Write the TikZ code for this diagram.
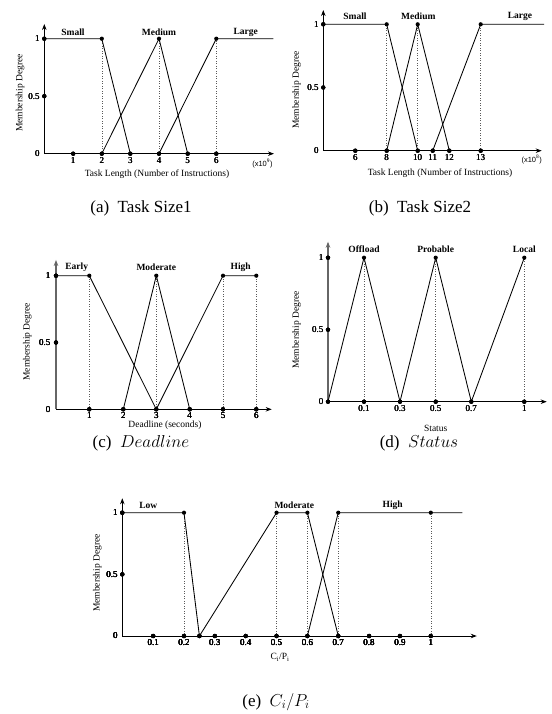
\documentclass[tikz,border=0pt]{standalone}
\usepackage{fontspec}
\setmainfont{Liberation Serif}
\newfontfamily\axsans{Liberation Sans}
\usetikzlibrary{arrows.meta}

% filled marker on a membership curve or an axis
\newcommand\mdot[1]{\fill #1 circle (2.1pt);}

\tikzset{
  curve/.style={line width=0.85pt, line join=round},
  axis/.style={line width=0.8pt, -{Stealth[length=6pt,width=4.5pt]}},
  greyaxis/.style={axis, draw=black!60, line width=1.3pt},
  guide/.style={dotted, line width=0.5pt, draw=black!65},
  setlabel/.style={font=\fontsize{9.5}{10}\selectfont\bfseries, inner sep=0pt},
  tick/.style={font=\fontsize{9}{10}\selectfont, inner sep=0.5pt},
  axtitle/.style={font=\fontsize{9.5}{11}\selectfont, inner sep=0pt},
  scalenote/.style={font=\axsans\fontsize{7.5}{9}\selectfont, inner sep=0pt},
  caption/.style={font=\fontsize{17}{20}\selectfont, inner sep=0pt},
}

\begin{document}
\begin{tikzpicture}[x=1pt, y=-1pt]
\useasboundingbox (0,0) rectangle (551,714);

% ---------------- (a) Task Size1 ----------------
\begin{scope}[shift={(44.3,153.7)}, y=115pt]
  \foreach \u in {57.5,114.7,172} \draw[guide] (\u,0) -- (\u,1);
  \draw[axis] (0,0) -- (229.7,0);
  \draw[axis] (0,0) -- (0,1.128);
  \draw[curve] (0,1) -- (57.5,1) -- (86,0);
  \draw[curve] (57.5,0) -- (114.7,1) -- (143.4,0);
  \draw[curve] (114.7,0) -- (172,1) -- (229,1);
  \foreach \u in {57.5,114.7,172} \mdot{(\u,1)}
  \mdot{(0,1)} \mdot{(0,0.5)}
  \foreach \u/\t in {28.9/1,57.5/2,86/3,114.7/4,143.4/5,172/6} {
    \mdot{(\u,0)}
    \node[tick, below=3pt] at (\u,0) {\t};
  }
  \foreach \v/\t in {0/0,0.5/0.5,1/1} \node[tick, left=4pt] at (0,\v) {\t};
\end{scope}
\node[setlabel] at (73,32) {Small};
\node[setlabel] at (159,32) {Medium};
\node[setlabel] at (245.7,32) {Large};
\node[axtitle, rotate=90] at (20,93) {Membership Degree};
\node[axtitle] at (157,174.5) {Task Length (Number of Instructions)};
\node[scalenote] at (262.5,163.5) {(x10$^{\mathsf{9}}$)};
\node[caption] at (141,208.5) {(a)\hspace{0.5em}Task Size1};

% ---------------- (b) Task Size2 ----------------
\begin{scope}[shift={(323.3,150.7)}, y=126.4pt]
  \foreach \u in {63.4,94.4,157.4} \draw[guide] (\u,0) -- (\u,1);
  \draw[axis] (0,0) -- (218.4,0);
  \draw[axis] (0,0) -- (0,1.113);
  \draw[curve] (0,1) -- (63.4,1) -- (94.4,0);
  \draw[curve] (63.4,0) -- (94.4,1) -- (126,0);
  \draw[curve] (109.4,0) -- (157.4,1) -- (220.7,1);
  \foreach \u in {63.4,94.4,157.4} \mdot{(\u,1)}
  \mdot{(0,1)} \mdot{(0,0.5)}
  \foreach \u/\t in {32/6,63.4/8,94.4/10,109.4/11,126/12,157.4/13} {
    \mdot{(\u,0)}
    \node[tick, below=3pt] at (\u,0) {\t};
  }
  \foreach \v/\t in {0/0,0.5/0.5,1/1} \node[tick, left=4pt] at (0,\v) {\t};
\end{scope}
\node[setlabel] at (355,16.7) {Small};
\node[setlabel] at (418.3,16.7) {Medium};
\node[setlabel] at (520,16.7) {Large};
\node[axtitle, rotate=90] at (296.7,90) {Membership Degree};
\node[axtitle] at (440,173.5) {Task Length (Number of Instructions)};
\node[scalenote] at (531.7,159.5) {(x10$^{\mathsf{8}}$)};
\node[caption] at (420,208.5) {(b)\hspace{0.5em}Task Size2};

% ---------------- (c) Deadline ----------------
\begin{scope}[shift={(56,409.3)}, y=133.6pt]
  \foreach \u in {33.3,100.3,167,200.3} \draw[guide] (\u,0) -- (\u,1);
  \draw[axis] (0,0) -- (215.7,0);
  \draw[greyaxis] (0,0) -- (0,1.118);
  \draw[curve] (0,1) -- (33.3,1) -- (100.3,0);
  \draw[curve] (67.3,0) -- (100.3,1) -- (133.7,0);
  \draw[curve] (100.3,0) -- (167,1) -- (200.3,1);
  \foreach \u in {33.3,100.3,167,200.3} \mdot{(\u,1)}
  \mdot{(0,1)} \mdot{(0,0.5)}
  \foreach \u/\t in {33.3/1,67.3/2,100.3/3,133.7/4,167/5,200.3/6} {
    \mdot{(\u,0)}
    \node[tick, below=2.5pt] at (\u,0) {\t};
  }
  \foreach \v/\t in {0/0,0.5/0.5,1/1} \node[tick, left=5pt] at (0,\v) {\t};
\end{scope}
\node[setlabel] at (76.7,267.3) {Early};
\node[setlabel] at (156.3,267.3) {Moderate};
\node[setlabel] at (240.7,267.3) {High};
\node[axtitle, rotate=90] at (27.3,341.7) {Membership Degree};
\node[axtitle] at (165,425) {Deadline (seconds)};
\node[caption] at (141,443) {(c)\hspace{0.5em}$Deadline$};

% ---------------- (d) Status ----------------
\begin{scope}[shift={(328,401.7)}, y=144pt]
  \foreach \u in {36,107.7,196.3} \draw[guide] (\u,0) -- (\u,1);
  \draw[axis] (0,0) -- (218.7,0);
  \draw[greyaxis] (0,0) -- (0,1.111);
  \draw[curve] (0,0) -- (36,1) -- (72,0) -- (107.7,1) -- (143.3,0) -- (196.3,1);
  \foreach \u in {36,107.7,196.3} \mdot{(\u,1)}
  \mdot{(0,1)} \mdot{(0,0.5)} \mdot{(0,0)}
  \foreach \u/\t in {36/0.1,72/0.3,107.7/0.5,143.3/0.7,196.3/1} {
    \mdot{(\u,0)}
    \node[tick, below=3pt] at (\u,0) {\t};
  }
  \foreach \v/\t in {0/0,0.5/0.5,1/1} \node[tick, left=4pt] at (0,\v) {\t};
\end{scope}
\node[setlabel] at (364,249) {Offload};
\node[setlabel] at (435.7,249) {Probable};
\node[setlabel] at (524.3,249) {Local};
\node[axtitle, rotate=90] at (296.7,330) {Membership Degree};
\node[axtitle] at (435.7,428.3) {Status};
\node[caption] at (419,443) {(d)\hspace{0.5em}$Status$};

% ---------------- (e) Ci/Pi ----------------
\begin{scope}[shift={(122.3,636)}, x=308.5pt, y=123.3pt]
  \foreach \u in {0.2,0.5,0.6,0.7,1} \draw[guide] (\u,0) -- (\u,1);
  \draw[axis] (0,0) -- (1.149,0);
  \draw[axis] (0,0) -- (0,1.117);
  \draw[curve] (0,1) -- (0.2,1) -- (0.25,0);
  \draw[curve] (0.25,0) -- (0.5,1) -- (0.6,1) -- (0.7,0);
  \draw[curve] (0.6,0) -- (0.7,1) -- (1.102,1);
  \foreach \u in {0.2,0.5,0.6,0.7,1} \mdot{(\u,1)}
  \mdot{(0,1)} \mdot{(0,0.5)} \mdot{(0.25,0)}
  \foreach \u/\t in {0.1/0.1,0.2/0.2,0.3/0.3,0.4/0.4,0.5/0.5,0.6/0.6,0.7/0.7,0.8/0.8,0.9/0.9,1/1} {
    \mdot{(\u,0)}
    \node[tick, below=3pt] at (\u,0) {\t};
  }
  \foreach \v/\t in {0/0,0.5/0.5,1/1} \node[tick, left=4pt] at (0,\v) {\t};
\end{scope}
\node[setlabel] at (148.3,505) {Low};
\node[setlabel] at (294.3,505) {Moderate};
\node[setlabel] at (392.7,505) {High};
\node[axtitle, rotate=90] at (97.3,573) {Membership Degree};
\node[axtitle] at (280,657.3) {C\textsubscript{i}/P\textsubscript{i}};
\node[caption] at (276,702) {(e)\hspace{0.5em}$C_i/P_i$};
\end{tikzpicture}
\end{document}
